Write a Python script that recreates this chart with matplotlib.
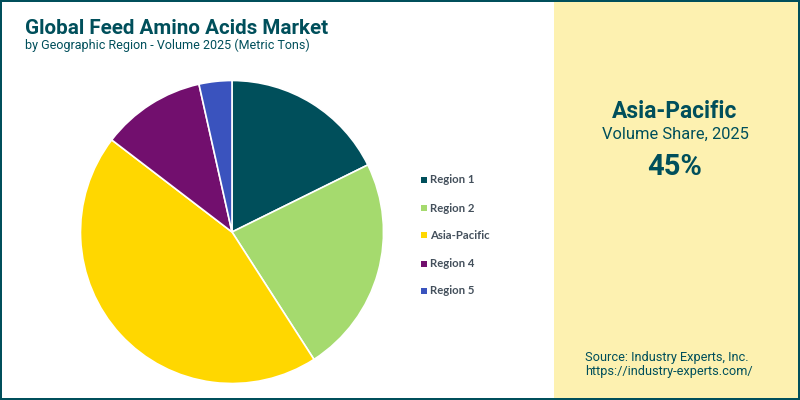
import matplotlib
matplotlib.use('Agg')
import matplotlib.pyplot as plt
from matplotlib.patches import Rectangle

W, H = 800, 400
TEAL = '#004F5B'

regions = ['Region 1', 'Region 2', 'Asia-Pacific', 'Region 4', 'Region 5']
shares = [17.7, 23.2, 44.5, 11.1, 3.5]
colors = ['#004F5B', '#A5DA6E', '#FFD700', '#720F6E', '#3A53BE']

title = 'Global Feed Amino Acids Market'
subtitle = 'by Geographic Region - Volume 2025 (Metric Tons)'
panel_title = 'Asia-Pacific'
panel_sub = 'Volume Share, 2025'
panel_value = '45%'
source_lines = ['Source: Industry Experts, Inc.', 'https://industry-experts.com/']


def px(x, y):
    # pixeles de imagen (origen arriba) a coordenadas de figura
    return x / W, 1 - y / H


fig = plt.figure(figsize=(W / 100, H / 100), dpi=100, facecolor='white')
plt.rcParams['font.family'] = ['Roboto', 'DejaVu Sans']

# panel derecho y marco
fig.add_artist(Rectangle(px(554, 400), 246 / W, 1, transform=fig.transFigure, color='#FDF1B0', lw=0))
for x0, y0, w, h in [(0, 0, 800, 2), (0, 398, 800, 2), (0, 0, 2, 400), (798, 0, 2, 400)]:
    fig.add_artist(Rectangle(px(x0, y0 + h), w / W, h / H, transform=fig.transFigure, color=TEAL, lw=0))

# pie, centro (232, 232) radio 151 px
x0, y0 = px(232 - 153, 232 + 153)
ax = fig.add_axes([x0, y0, 306 / W, 306 / H])
ax.pie(shares, colors=colors, startangle=90, counterclock=False, radius=151.5 / 153,
       wedgeprops={'edgecolor': 'white', 'linewidth': 1.2})
ax.set_xlim(-1, 1)
ax.set_ylim(-1, 1)
ax.axis('off')

# titulos
fig.text(*px(25, 28), title, fontsize=14.9, fontweight='bold', color=TEAL, va='center', ha='left')
fig.text(*px(25, 45), subtitle, fontsize=9.0, color=TEAL, va='center', ha='left')

# leyenda
legend_y = [180, 208, 235.5, 263.5, 291]
for name, col, ly in zip(regions, colors, legend_y):
    fig.add_artist(Rectangle(px(421, ly + 3), 6 / W, 6 / H, transform=fig.transFigure, color=col, lw=0))
    fig.text(*px(430, ly), name, fontsize=8.2, fontfamily='Lato', fontweight='bold',
             color='#44505C', va='center', ha='left')

# texto del panel
fig.text(*px(675, 111), panel_title, fontsize=16.4, fontweight='bold', color=TEAL, va='center', ha='center')
fig.text(*px(675, 134), panel_sub, fontsize=11.9, color=TEAL, va='center', ha='center')
fig.text(*px(675, 167), panel_value, fontsize=21, fontweight='bold', color=TEAL, va='center', ha='center')

fig.text(*px(585, 357), source_lines[0], fontsize=9.2, color=TEAL, va='center', ha='left')
fig.text(*px(585, 371), source_lines[1], fontsize=9.2, color=TEAL, va='center', ha='left')

fig.savefig('out.png', dpi=100)
